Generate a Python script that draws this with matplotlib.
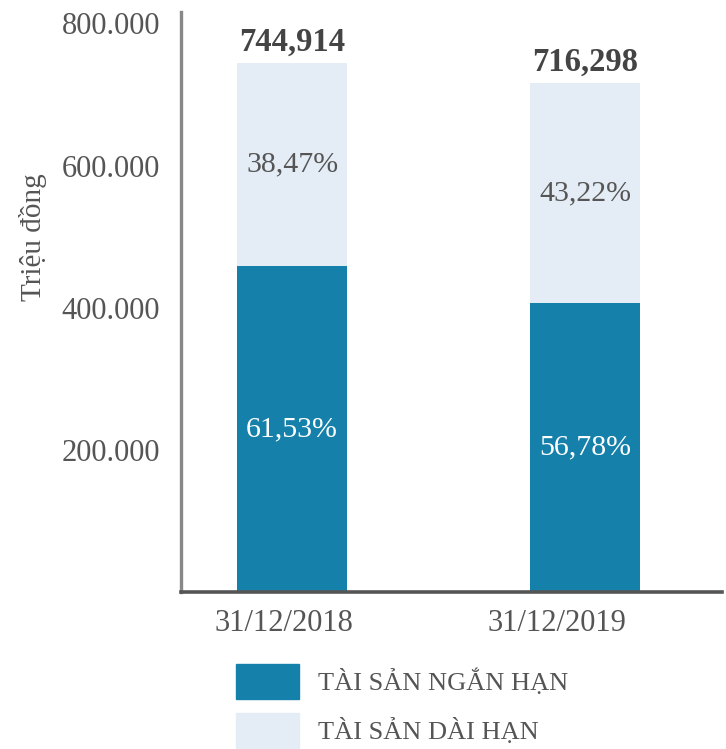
import numpy as np
import matplotlib
matplotlib.use("Agg")
import matplotlib.pyplot as plt
import matplotlib.transforms as mtransforms
from matplotlib.patches import Patch

plt.rcParams['font.family'] = ['Liberation Serif', 'DejaVu Serif']

dates = ['31/12/2018', '31/12/2019']
totals = [744914, 716298]
short_pct = [61.53, 56.78]
long_pct = [38.47, 43.22]
short_vals = [t * p / 100 for t, p in zip(totals, short_pct)]
long_vals = [t * p / 100 for t, p in zip(totals, long_pct)]
yticks = [200000, 400000, 600000, 800000]

dark = '#1581aa'
light = '#e4edf5'
txt = '#555555'

fig = plt.figure(figsize=(7.26, 7.49), dpi=100)
ax = fig.add_axes([181 / 726, 157 / 749, (722 - 181) / 726, (592 - 12) / 749])

x = np.arange(len(dates))
w = 0.375
ax.bar(x, short_vals, w, color=dark)
ax.bar(x, long_vals, w, bottom=short_vals, color=light)

for i in range(len(x)):
    ax.text(x[i], short_vals[i] / 2, f"{short_pct[i]:.2f}%".replace('.', ','),
            ha='center', va='center', color='white', fontsize=21.5)
    ax.text(x[i], short_vals[i] + long_vals[i] / 2, f"{long_pct[i]:.2f}%".replace('.', ','),
            ha='center', va='center', color=txt, fontsize=21.5)
    ax.text(x[i], totals[i] + 17000, f"{totals[i]:,}", ha='center', va='baseline',
            color='#444444', fontsize=23.5, fontweight='bold')

ax.set_xlim(-0.379, 1.468)
ax.set_ylim(0, 816000)
ax.set_xticks(x)
ax.set_xticklabels(dates)
ax.set_yticks(yticks)
ax.set_yticklabels([f"{v:,}".replace(',', '.') for v in yticks])
ax.tick_params(axis='y', length=0, pad=15, labelsize=22, labelcolor=txt)
ax.tick_params(axis='x', length=0, pad=12, labelsize=22, labelcolor=txt)

# date labels sit a bit left of the bar centres in the original
for lab, dx in zip(ax.get_xticklabels(), [-8, -28]):
    lab.set_transform(lab.get_transform() +
                      mtransforms.ScaledTranslation(dx / 100, 0, fig.dpi_scale_trans))

ax.set_ylabel('Triệu đồng', fontsize=21, color=txt)
ax.yaxis.set_label_coords(-0.248, 0.612)

for s in ['top', 'right']:
    ax.spines[s].set_visible(False)
ax.spines['left'].set_color('#888888')
ax.spines['left'].set_linewidth(2.4)
ax.spines['bottom'].set_color('#555555')
ax.spines['bottom'].set_linewidth(2.6)

handles = [Patch(color=dark, label='TÀI SẢN NGẮN HẠN'),
           Patch(color=light, label='TÀI SẢN DÀI HẠN')]
leg = fig.legend(handles=handles, loc='upper left', bbox_to_anchor=(236 / 726, 1 - 664 / 749),
                 frameon=False, fontsize=19, handlelength=2.39, handleheight=1.66,
                 handletextpad=0.72, labelspacing=0.53, borderpad=0, borderaxespad=0)
for t in leg.get_texts():
    t.set_color(txt)

fig.savefig('out.png', dpi=100)
